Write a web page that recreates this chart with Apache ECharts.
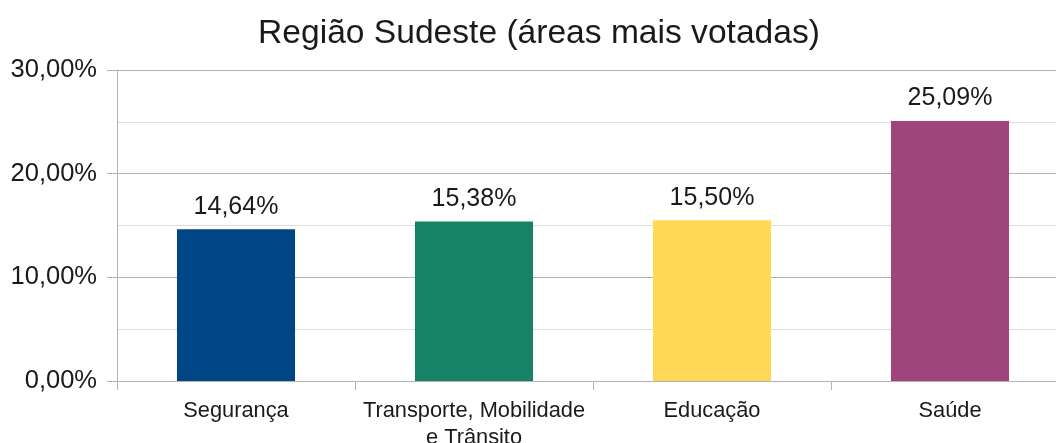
<!DOCTYPE html>
<html>
<head>
<meta charset="utf-8">
<script src="https://cdn.jsdelivr.net/npm/echarts@6/dist/echarts.min.js"></script>
<style>
html,body{margin:0;padding:0;background:#fff;}
#chart{width:1056px;height:443px;}
</style>
</head>
<body>
<div id="chart"></div>
<script>
const titleText = 'Região Sudeste (áreas mais votadas)';
const categories = ['Segurança', 'Transporte, Mobilidade\ne Trânsito', 'Educação', 'Saúde'];
const values = [14.64, 15.38, 15.50, 25.09];
const barColors = ['#004586', '#168266', '#ffd955', '#a0457c'];
const yTicks = [0, 10, 20, 30];

const fmt = v => v.toFixed(2).replace('.', ',') + '%';

const chart = echarts.init(document.getElementById('chart'), null, {renderer: 'canvas'});
chart.setOption({
  animation: false,
  backgroundColor: '#fff',
  textStyle: {fontFamily: 'Liberation Sans'},
  title: {
    text: titleText,
    left: 534, top: 12, textAlign: 'center',
    textStyle: {fontFamily: 'Liberation Sans', fontSize: 33.6, fontWeight: 'normal', color: '#1a1a1a'}
  },
  grid: {left: 117, right: -13, top: 70, bottom: 62, containLabel: false, outerBoundsMode: 'none'},
  xAxis: {
    type: 'category',
    data: categories,
    axisLine: {lineStyle: {color: '#b3b3b3', width: 1}},
    axisTick: {show: true, length: 9, lineStyle: {color: '#b3b3b3'}},
    axisLabel: {fontFamily: 'Liberation Sans', fontSize: 21.8, color: '#1a1a1a', margin: 16, lineHeight: 27, interval: 0}
  },
  yAxis: {
    type: 'value',
    min: yTicks[0], max: yTicks[yTicks.length - 1], interval: 10,
    axisLine: {show: true, lineStyle: {color: '#b3b3b3', width: 1}},
    axisTick: {show: true, length: 10, lineStyle: {color: '#b3b3b3'}},
    axisLabel: {fontFamily: 'Liberation Sans', fontSize: 25.5, color: '#1a1a1a', margin: 20, formatter: v => fmt(v)},
    splitLine: {show: true, lineStyle: {color: '#b3b3b3', width: 1}},
    minorTick: {show: false, splitNumber: 2},
    minorSplitLine: {show: true, lineStyle: {color: '#dddddd', width: 1}}
  },
  series: [{
    type: 'bar',
    data: values.map((v, i) => ({value: v, itemStyle: {color: barColors[i]}})),
    barWidth: '49.6%',
    label: {
      show: true, position: 'top', distance: 10,
      fontFamily: 'Liberation Sans', fontSize: 25, color: '#1a1a1a',
      formatter: p => fmt(p.value)
    }
  }]
});
</script>
</body>
</html>
